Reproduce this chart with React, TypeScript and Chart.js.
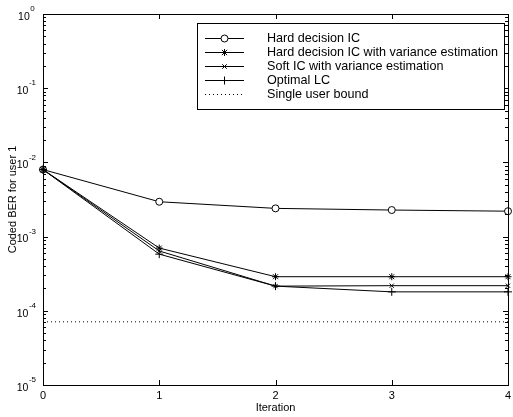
import React, { useEffect, useRef } from "react";
import { Chart, registerables } from "chart.js";

Chart.register(...registerables);

const iterations = [0, 1, 2, 3, 4];
const hardIC = [8.0e-3, 2.95e-3, 2.4e-3, 2.28e-3, 2.2e-3];
const hardICVar = [8.0e-3, 7.0e-4, 2.88e-4, 2.88e-4, 2.88e-4];
const softICVar = [8.0e-3, 6.4e-4, 2.15e-4, 2.18e-4, 2.18e-4];
const optimalLC = [8.0e-3, 5.8e-4, 2.15e-4, 1.8e-4, 1.8e-4];
const singleUser = [7.1e-5, 7.1e-5, 7.1e-5, 7.1e-5, 7.1e-5];
const seriesLabels = [
  "Hard decision IC",
  "Hard decision IC with variance estimation",
  "Soft IC with variance estimation",
  "Optimal LC",
  "Single user bound",
];
const xTickLabels = ["0", "1", "2", "3", "4"];
const yExponents = [0, -1, -2, -3, -4, -5];

const FONT = "Arial, 'Liberation Sans', Helvetica, sans-serif";

function marker(ctx: CanvasRenderingContext2D, style: string, r: number, x: number, y: number) {
  ctx.beginPath();
  if (style === "circle") {
    ctx.fillStyle = "#fff";
    ctx.arc(x, y, r, 0, Math.PI * 2);
    ctx.fill();
    ctx.stroke();
    return;
  }
  if (style === "cross" || style === "star") {
    ctx.moveTo(x - r, y);
    ctx.lineTo(x + r, y);
    ctx.moveTo(x, y - r);
    ctx.lineTo(x, y + r);
  }
  if (style === "crossRot" || style === "star") {
    const d = r * 0.75;
    ctx.moveTo(x - d, y - d);
    ctx.lineTo(x + d, y + d);
    ctx.moveTo(x - d, y + d);
    ctx.lineTo(x + d, y - d);
  }
  ctx.stroke();
}

const framePlugin = {
  id: "matlabFrame",
  afterDraw(chart: any) {
    const { ctx, chartArea } = chart;
    const { left, right, top, bottom } = chartArea;
    const xs = chart.scales.x;
    const ys = chart.scales.y;
    ctx.save();
    ctx.strokeStyle = "#000";
    ctx.lineWidth = 1;
    ctx.strokeRect(Math.round(left) + 0.5, Math.round(top) + 0.5, Math.round(right - left), Math.round(bottom - top));
    ctx.beginPath();
    for (let d = -5; d <= 0; d++) {
      for (let k = 1; k <= 9; k++) {
        if (d === 0 && k > 1) break;
        const v = k * Math.pow(10, d);
        const y = Math.round(ys.getPixelForValue(v)) + 0.5;
        const len = k === 1 ? 5 : 3;
        ctx.moveTo(left, y);
        ctx.lineTo(left + len, y);
        ctx.moveTo(right, y);
        ctx.lineTo(right - len, y);
      }
    }
    for (let i = 1; i < xTickLabels.length - 1; i++) {
      const x = Math.round(xs.getPixelForValue(i)) + 0.5;
      ctx.moveTo(x, bottom);
      ctx.lineTo(x, bottom - 5);
      ctx.moveTo(x, top);
      ctx.lineTo(x, top + 5);
    }
    ctx.stroke();

    ctx.fillStyle = "#000";
    ctx.font = `11px ${FONT}`;
    ctx.textAlign = "center";
    ctx.textBaseline = "top";
    xTickLabels.forEach((t, i) => {
      ctx.fillText(t, xs.getPixelForValue(i), bottom + 5);
    });
    yExponents.forEach((e) => {
      const y = ys.getPixelForValue(Math.pow(10, e));
      ctx.textBaseline = "middle";
      const expStr = String(e);
      ctx.font = `8px ${FONT}`;
      const ew = ctx.measureText(expStr).width;
      const baseRight = left - 11 - ew * 0.5;
      ctx.font = `10.5px ${FONT}`;
      ctx.textAlign = "right";
      ctx.fillText("10", baseRight, y + 3);
      ctx.font = `8px ${FONT}`;
      ctx.textAlign = "left";
      ctx.fillText(expStr, baseRight + 0.5, y - 5);
    });
    ctx.font = `11px ${FONT}`;
    ctx.textAlign = "center";
    ctx.textBaseline = "alphabetic";
    ctx.fillText("Iteration", (left + right) / 2, 411);
    ctx.save();
    ctx.translate(16, (top + bottom) / 2);
    ctx.rotate(-Math.PI / 2);
    ctx.fillText("Coded BER for user 1", 0, 0);
    ctx.restore();

    const bx = 197, by = 23, bw = 307, bh = 86;
    ctx.fillStyle = "#fff";
    ctx.fillRect(bx, by, bw, bh);
    ctx.strokeStyle = "#000";
    ctx.lineWidth = 1;
    ctx.strokeRect(bx + 0.5, by + 0.5, bw, bh);
    const rowY = [38, 52, 66, 80, 94];
    const styles = ["circle", "star", "crossRot", "cross", "none"];
    const radii = [3.5, 3.5, 3, 4, 0];
    seriesLabels.forEach((lab, i) => {
      const y = rowY[i] + 0.5;
      ctx.beginPath();
      ctx.strokeStyle = "#000";
      ctx.lineWidth = 1;
      if (i === 4) ctx.setLineDash([1, 3]);
      ctx.moveTo(205, y);
      ctx.lineTo(244, y);
      ctx.stroke();
      ctx.setLineDash([]);
      if (styles[i] !== "none") marker(ctx, styles[i], radii[i], 224.5, y);
      ctx.fillStyle = "#000";
      ctx.font = `12.6px ${FONT}`;
      ctx.textAlign = "left";
      ctx.textBaseline = "middle";
      ctx.fillText(lab, 267, y);
    });
    ctx.restore();
  },
};

export default function App() {
  const ref = useRef<HTMLCanvasElement>(null);
  useEffect(() => {
    document.body.style.margin = "0";
    const mk = (data: number[], style: any, radius: number, extra: any = {}) => ({
      data: data.map((v, i) => ({ x: iterations[i], y: v })),
      borderColor: "#000",
      backgroundColor: "#fff",
      pointBorderColor: "#000",
      pointBackgroundColor: "#fff",
      borderWidth: 1,
      pointStyle: style,
      pointRadius: radius,
      pointBorderWidth: 1,
      tension: 0,
      clip: false,
      ...extra,
    });
    const chart = new Chart(ref.current!, {
      type: "line",
      data: {
        datasets: [
          { label: seriesLabels[4], ...mk(singleUser, false, 0, { borderDash: [1, 3] }) },
          { label: seriesLabels[3], ...mk(optimalLC, "cross", 4) },
          { label: seriesLabels[2], ...mk(softICVar, "crossRot", 3) },
          { label: seriesLabels[1], ...mk(hardICVar, "star", 3.5) },
          { label: seriesLabels[0], ...mk(hardIC, "circle", 3.5) },
        ],
      },
      options: {
        animation: false,
        responsive: false,
        devicePixelRatio: 1,
        layout: { padding: { left: 43, right: 1, top: 14, bottom: 32 } },
        plugins: { legend: { display: false }, tooltip: { enabled: false } },
        scales: {
          x: {
            type: "linear",
            min: 0,
            max: 4,
            ticks: { display: false },
            grid: { display: false, drawTicks: false },
            border: { display: false },
          },
          y: {
            type: "logarithmic",
            min: 1e-5,
            max: 1,
            ticks: { display: false },
            grid: { display: false, drawTicks: false },
            border: { display: false },
          },
        },
      },
      plugins: [framePlugin],
    });
    return () => chart.destroy();
  }, []);
  return (
    <div style={{ position: "absolute", left: 0, top: 0, width: 513, height: 417, background: "#fff" }}>
      <canvas ref={ref} width={513} height={417} style={{ width: 513, height: 417 }} />
    </div>
  );
}
